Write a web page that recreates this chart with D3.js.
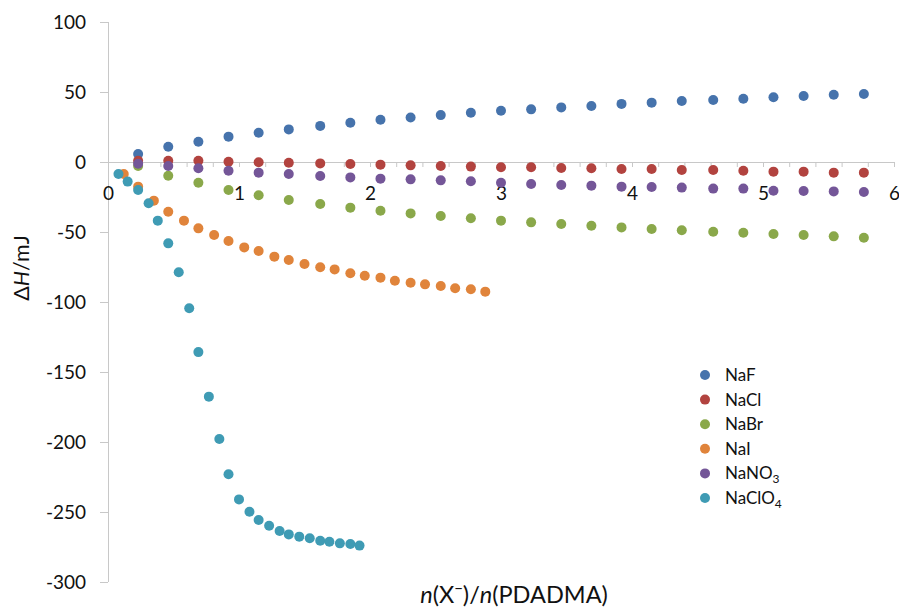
<!DOCTYPE html>
<html>
<head>
<meta charset="utf-8">
<script src="https://cdn.jsdelivr.net/npm/d3@7"></script>
<style>
  html, body { margin: 0; padding: 0; background: #ffffff; }
  svg { display: block; font-family: Lato, "Open Sans", sans-serif; }
</style>
</head>
<body>
<svg id="chart" width="899" height="608"></svg>
<script>
// ---------- data ----------
const seriesNames = ["NaF", "NaCl", "NaBr", "NaI", "NaNO3", "NaClO4"];

const xCoarse = [0.23,0.46,0.69,0.92,1.15,1.38,1.62,1.85,2.08,2.31,2.54,2.77,3.00,3.23,3.46,3.69,3.92,4.15,4.38,4.62,4.85,5.08,5.31,5.54,5.77];
const xNaI    = [0.12,0.23,0.35,0.46,0.58,0.69,0.81,0.92,1.04,1.15,1.27,1.38,1.50,1.62,1.73,1.85,1.96,2.08,2.19,2.31,2.42,2.54,2.65,2.77,2.88];
const xNaClO4 = [0.08,0.15,0.23,0.31,0.38,0.46,0.54,0.62,0.69,0.77,0.85,0.92,1.00,1.08,1.15,1.23,1.31,1.38,1.46,1.54,1.62,1.69,1.77,1.85,1.92];

const yNaF    = [5.7,10.9,14.5,18.1,20.9,23.3,25.8,28.0,30.2,31.8,33.5,35.2,36.6,37.6,39.0,40.0,41.5,42.4,43.6,44.3,45.2,46.2,47.1,48.0,48.6];
const yNaCl   = [0.9,0.9,0.9,0.2,-0.2,-0.5,-1.0,-1.4,-1.9,-2.4,-2.9,-3.3,-3.8,-3.8,-4.3,-4.5,-5.0,-5.0,-5.7,-5.7,-6.2,-6.9,-6.9,-7.6,-7.6];
const yNaBr   = [-2.9,-9.8,-14.8,-20.0,-23.8,-27.1,-30.0,-32.6,-34.8,-36.7,-38.6,-40.2,-41.9,-43.1,-44.3,-45.5,-46.7,-47.9,-48.8,-49.8,-50.5,-51.4,-52.1,-53.1,-54.1];
const yNaI    = [-8.6,-17.6,-27.6,-35.5,-41.9,-47.4,-52.1,-56.4,-61.0,-63.6,-67.6,-70.0,-72.9,-75.2,-76.7,-79.5,-81.2,-82.6,-84.8,-86.2,-87.4,-88.6,-90.2,-90.9,-92.6];
const yNaNO3  = [-1.2,-2.9,-4.5,-6.2,-7.6,-8.6,-10.0,-11.0,-11.9,-12.4,-13.1,-13.8,-14.8,-15.7,-16.4,-16.9,-17.6,-17.9,-18.3,-19.0,-19.0,-20.5,-20.7,-21.0,-21.4];
const yNaClO4 = [-8.6,-14.0,-20.0,-29.5,-41.9,-58.1,-78.8,-104.5,-135.8,-167.6,-197.9,-223.0,-241.0,-249.8,-255.7,-259.8,-263.6,-266.0,-267.6,-268.8,-270.5,-271.2,-272.4,-272.9,-274.0];

const xTickValues = [0, 1, 2, 3, 4, 5, 6];
const xTickLabels = ["0", "1", "2", "3", "4", "5", "6"];
const xMinorTicks = [0.2,0.4,0.6,0.8,1,1.2,1.4,1.6,1.8,2,2.2,2.4,2.6,2.8,3,3.2,3.4,3.6,3.8,4,4.2,4.4,4.6,4.8,5,5.2,5.4,5.6,5.8,6];
const yTickValues = [100, 50, 0, -50, -100, -150, -200, -250, -300];
const yTickLabels = ["100", "50", "0", "-50", "-100", "-150", "-200", "-250", "-300"];

// ---------- styles ----------
const colors = ["#4673AC", "#B2433F", "#8AA84A", "#E0843B", "#745698", "#3F9BB4"];
const seriesData = [
  {name: "NaF",    xs: xCoarse, ys: yNaF},
  {name: "NaCl",   xs: xCoarse, ys: yNaCl},
  {name: "NaBr",   xs: xCoarse, ys: yNaBr},
  {name: "NaI",    xs: xNaI,    ys: yNaI},
  {name: "NaNO3",  xs: xCoarse, ys: yNaNO3},
  {name: "NaClO4", xs: xNaClO4, ys: yNaClO4}
];

const svg = d3.select("#chart");
const x = d3.scaleLinear().domain([0, 6]).range([108, 894]);
const y = d3.scaleLinear().domain([-300, 100]).range([582, 22]);
const axisColor = "#c8c8c8";
const tickFont = 19;

// y axis
const yAxis = svg.append("g")
  .attr("transform", `translate(${x(0)},0)`)
  .call(d3.axisLeft(y).tickValues(yTickValues)
        .tickFormat((d, i) => yTickLabels[i]).tickSize(8).tickPadding(14));
yAxis.select(".domain").attr("stroke", axisColor).attr("d", `M0.5,${y(100)}V${y(-300)}`);
yAxis.selectAll(".tick line").attr("stroke", axisColor);
yAxis.selectAll(".tick text").attr("font-size", tickFont).attr("fill", "#111")
  .attr("font-family", "Lato, 'Open Sans', sans-serif");

// x axis (minor ticks) at y = 0
const xAxisMinor = svg.append("g")
  .attr("transform", `translate(0,${y(0)})`)
  .call(d3.axisBottom(x).tickValues(xMinorTicks).tickFormat("").tickSize(5));
xAxisMinor.select(".domain").attr("stroke", axisColor).attr("d", `M${x(0)},0.5H${x(6)}`);
xAxisMinor.selectAll(".tick line").attr("stroke", axisColor);

// x axis labels
const xAxisLab = svg.append("g")
  .attr("transform", `translate(0,${y(0)})`)
  .call(d3.axisBottom(x).tickValues(xTickValues)
        .tickFormat((d, i) => xTickLabels[i]).tickSize(0).tickPadding(25));
xAxisLab.select(".domain").remove();
xAxisLab.selectAll(".tick text").attr("font-size", tickFont).attr("fill", "#111")
  .attr("font-family", "Lato, 'Open Sans', sans-serif");

// points
seriesData.forEach((s, si) => {
  svg.append("g").selectAll("circle")
    .data(s.xs.map((xv, i) => [xv, s.ys[i]]))
    .join("circle")
    .attr("cx", d => x(d[0]))
    .attr("cy", d => y(d[1]))
    .attr("r", 5)
    .attr("fill", colors[si]);
});

// legend
const legend = svg.append("g");
const legendLabels = [
  [["NaF", null]],
  [["NaCl", null]],
  [["NaBr", null]],
  [["NaI", null]],
  [["NaNO", null], ["3", "sub"]],
  [["NaClO", null], ["4", "sub"]]
];
legendLabels.forEach((parts, i) => {
  const ly = 375 + i * 24.6;
  legend.append("circle").attr("cx", 705).attr("cy", ly).attr("r", 5).attr("fill", colors[i]);
  const t = legend.append("text").attr("x", 725).attr("y", ly + 6)
    .attr("font-size", 17).attr("fill", "#111");
  parts.forEach(([txt, kind]) => {
    if (kind === "sub") {
      t.append("tspan").attr("dy", 4).attr("font-size", 12).text(txt);
    } else {
      t.append("tspan").text(txt);
    }
  });
});

// y title
const yTitle = svg.append("text")
  .attr("transform", "translate(29,268) rotate(-90)")
  .attr("text-anchor", "middle").attr("font-size", 21.5).attr("fill", "#111");
yTitle.append("tspan").text("Δ");
yTitle.append("tspan").attr("font-style", "italic").text("H");
yTitle.append("tspan").text("/mJ");

// x title
const xTitle = svg.append("text")
  .attr("x", 514).attr("y", 603)
  .attr("text-anchor", "middle").attr("font-size", 23.5).attr("fill", "#111");
xTitle.append("tspan").attr("font-style", "italic").text("n");
xTitle.append("tspan").text("(X");
xTitle.append("tspan").attr("dy", -9).attr("font-size", 15).text("−");
xTitle.append("tspan").attr("dy", 9).text(")/");
xTitle.append("tspan").attr("font-style", "italic").text("n");
xTitle.append("tspan").text("(PDADMA)");
</script>
</body>
</html>
